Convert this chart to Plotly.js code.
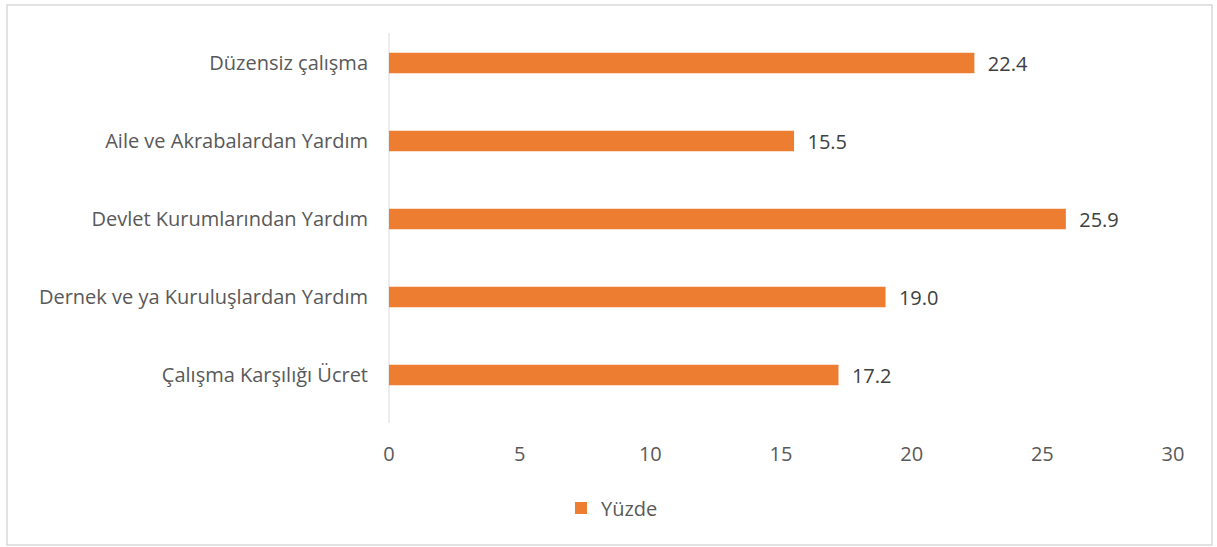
<!DOCTYPE html>
<html>
<head>
<meta charset="utf-8">
<script src="https://cdn.plot.ly/plotly-3.0.1.min.js"></script>
<style>
html,body{margin:0;padding:0;background:#fff;}
#chart{width:1217px;height:547px;}
</style>
</head>
<body>
<div id="chart"></div>
<script>
const categories = [
  "Çalışma Karşılığı Ücret",
  "Dernek ve ya Kuruluşlardan Yardım",
  "Devlet Kurumlarından Yardım",
  "Aile ve Akrabalardan Yardım",
  "Düzensiz çalışma"
];
const values = [17.2, 19.0, 25.9, 15.5, 22.4];
const seriesName = "Yüzde";
const xTicks = [0, 5, 10, 15, 20, 25, 30];

const W = 1217, H = 547;
const L = 389, R = 44, T = 24, B = 133;
const pw = W - L - R, ph = H - T - B;
const px = v => (v - L) / pw;
const py = v => (H - B - v) / ph;

const font = "'Open Sans', sans-serif";
const FS = 20;

const trace = {
  type: "bar",
  orientation: "h",
  name: seriesName,
  y: categories,
  x: values,
  marker: {color: "#ED7D31"},
  text: values.map(v => v.toFixed(1)),
  texttemplate: "  %{text}",
  textposition: "outside",
  constraintext: "none",
  textfont: {family: font, size: FS, color: "#404040"},
  cliponaxis: false,
  hoverinfo: "x+y"
};

const layout = {
  width: W, height: H,
  margin: {l: L, r: R, t: T, b: B, pad: 0},
  paper_bgcolor: "#fff",
  plot_bgcolor: "#fff",
  bargap: 0.74,
  font: {family: font, size: FS, color: "#595959"},
  showlegend: true,
  legend: {
    orientation: "h",
    x: px(612), xanchor: "center",
    y: py(508), yanchor: "middle",
    font: {family: font, size: FS, color: "#595959"},
    itemwidth: 30
  },
  xaxis: {
    range: [0, 30],
    tickvals: xTicks,
    ticktext: xTicks.map(String),
    showgrid: false,
    zeroline: false,
    showline: false,
    ticks: "",
    ticklabelstandoff: 26,
    tickfont: {family: font, size: FS, color: "#595959"},
    fixedrange: true
  },
  yaxis: {
    type: "category",
    showgrid: false,
    zeroline: false,
    showline: false,
    ticks: "",
    ticklabelstandoff: 20,
    tickfont: {family: font, size: FS, color: "#595959"},
    fixedrange: true
  },
  shapes: [
    {
      type: "rect", xref: "paper", yref: "paper",
      x0: px(7), x1: px(1212), y0: py(545), y1: py(5),
      line: {color: "#d9d9d9", width: 1.5},
      fillcolor: "rgba(0,0,0,0)",
      layer: "below"
    },
    {
      type: "line", xref: "paper", yref: "paper",
      x0: 0, x1: 0, y0: py(423), y1: py(33),
      line: {color: "#d9d9d9", width: 1},
      layer: "below"
    }
  ]
};

Plotly.newPlot("chart", [trace], layout, {displayModeBar: false, responsive: false});
</script>
</body>
</html>
